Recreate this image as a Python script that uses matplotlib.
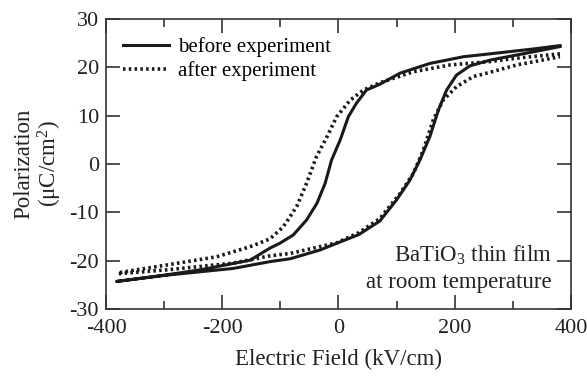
import numpy as np
import matplotlib
matplotlib.use("Agg")
import matplotlib.pyplot as plt

plt.rcParams['font.family'] = ['Liberation Serif', 'DejaVu Serif']
plt.rcParams['mathtext.fontset'] = 'custom'
plt.rcParams['mathtext.rm'] = 'Liberation Serif'
plt.rcParams['mathtext.it'] = 'Liberation Serif:italic'

# before experiment: upper branch (field decreasing), then lower branch (field increasing)
before_up_x = [381, 335, 261, 215, 157, 106, 71, 48, 31, 17, 3, -12, -23, -37, -55, -78, -101, -118, -152, -238, -300, -382]
before_up_y = [24.5, 23.8, 22.8, 22.2, 20.8, 18.8, 16.5, 15.3, 12.6, 9.8, 5.0, 0.8, -4.0, -8.1, -11.6, -14.7, -16.4, -17.4, -19.9, -21.9, -23.0, -24.3]
before_lo_x = [-382, -296, -181, -118, -83, -32, -3, 35, 71, 100, 123, 140, 157, 172, 186, 203, 226, 261, 278, 335, 381]
before_lo_y = [-24.3, -23.0, -21.6, -20.2, -19.6, -17.8, -16.4, -14.6, -11.8, -7.4, -3.3, 0.8, 5.6, 11.2, 15.3, 18.4, 20.3, 21.5, 21.9, 23.2, 24.3]

# after experiment
after_up_x = [381, 307, 261, 192, 129, 71, 43, 20, -3, -20, -38, -55, -72, -95, -118, -152, -210, -296, -379]
after_up_y = [22.8, 21.9, 21.2, 20.5, 19.1, 16.8, 15.3, 13.2, 9.8, 5.6, 1.5, -4.0, -8.8, -13.0, -15.5, -17.1, -19.2, -20.9, -22.5]
after_lo_x = [-379, -296, -181, -118, -83, -3, 35, 71, 106, 129, 146, 163, 180, 203, 232, 249, 307, 381]
after_lo_y = [-22.7, -21.9, -20.5, -19.0, -18.5, -16.3, -14.2, -11.3, -6.1, -1.9, 2.9, 9.1, 13.2, 16.0, 18.1, 18.6, 20.5, 22.2]

fig = plt.figure(figsize=(5.87, 3.78), dpi=100)
ax = fig.add_axes([0.1806, 0.1825, 0.7921, 0.7672])

ax.plot(before_up_x + before_lo_x, before_up_y + before_lo_y, color='#1a1a1a', lw=2.2,
        solid_joinstyle='round', label='before experiment')
ax.plot(after_up_x + after_lo_x, after_up_y + after_lo_y, color='#1a1a1a', lw=2.6,
        linestyle=(0, (0.7, 0.9)), label='after experiment')

ax.set_xlim(-400, 400)
ax.set_ylim(-30, 30)
ax.set_xticks([-400, -200, 0, 200, 400])
ax.set_xticks([-300, -100, 100, 300], minor=True)
ax.set_yticks([-30, -20, -10, 0, 10, 20, 30])
ax.set_xticklabels(['-400', '-200', '0', '200', '400'])
ax.set_yticklabels(['-30', '-20', '-10', '0', '10', '20', '30'])

for s in ax.spines.values():
    s.set_linewidth(1.2)
    s.set_color('#333333')
ax.tick_params(which='both', direction='in', top=True, right=True, color='#333333',
               width=1.2, labelsize=16, labelcolor='#222222')
ax.tick_params(axis='x', which='major', length=10, pad=7)
ax.tick_params(axis='x', which='minor', length=6)
ax.tick_params(axis='y', which='major', length=10, pad=5)

ax.set_xlabel('Electric Field (kV/cm)', fontsize=16.5, color='#222222', labelpad=8)
ax.set_ylabel('Polarization\n(μC/cm$^2$)', fontsize=16.5, color='#222222', labelpad=4,
              linespacing=1.05)

ax.legend(loc='upper left', bbox_to_anchor=(0.01, 0.98), frameon=False, fontsize=15,
          handlelength=2.2, handletextpad=0.45, labelspacing=0.2, borderaxespad=0.2)

ax.text(0.959, 0.186, 'BaTiO$_3$ thin film', transform=ax.transAxes, ha='right',
        va='center', fontsize=16.5, color='#222222')
ax.text(0.959, 0.09, 'at room temperature', transform=ax.transAxes, ha='right',
        va='center', fontsize=16.5, color='#222222')

fig.savefig('out.png', dpi=100)
